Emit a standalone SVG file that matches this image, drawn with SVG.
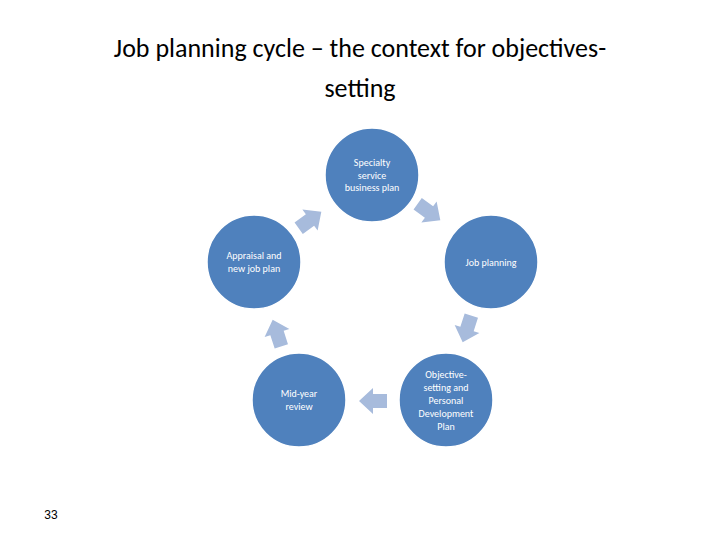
<svg xmlns="http://www.w3.org/2000/svg" width="720" height="540" viewBox="0 0 720 540">
<style>
.n{fill:#4F81BD;stroke:#ffffff;stroke-width:1.5}
.t{font-family:Calibri,"Liberation Sans",sans-serif;font-size:10px;fill:#ffffff;text-anchor:middle}
.a{fill:#A7BBDC}
.h{font-family:Calibri,"Open Sans","Liberation Sans",sans-serif;font-size:26px;fill:#000;text-anchor:middle}
</style>
<defs><polygon id="arr" points="-14,-7 0,-7 0,-13 14,0 0,13 0,7 -14,7"/></defs>
<rect width="720" height="540" fill="#fff"/>
<text class="h" x="360" y="57">Job planning cycle – the context for objectives-</text>
<text class="h" x="360" y="97">setting</text>
<g id="connectors">
<use href="#arr" class="a" transform="translate(429,212) rotate(36)"/>
<use href="#arr" class="a" transform="translate(467,329) rotate(108)"/>
<use href="#arr" class="a" transform="translate(373,401) rotate(180)"/>
<use href="#arr" class="a" transform="translate(277,333) rotate(252)"/>
<use href="#arr" class="a" transform="translate(310,220) rotate(324)"/>
</g>
<g id="n1"><circle class="n" cx="372" cy="175" r="47"/><text class="t" x="372" y="166">Specialty</text><text class="t" x="372" y="179">service</text><text class="t" x="372" y="191">business plan</text></g>
<g id="n2"><circle class="n" cx="491" cy="262" r="47"/><text class="t" x="491" y="266">Job planning</text></g>
<g id="n3"><circle class="n" cx="446" cy="400" r="47"/><text class="t" x="446" y="378">Objective-</text><text class="t" x="446" y="391">setting and</text><text class="t" x="446" y="404">Personal</text><text class="t" x="446" y="417">Development</text><text class="t" x="446" y="430">Plan</text></g>
<g id="n4"><circle class="n" cx="299" cy="400" r="47"/><text class="t" x="299" y="397">Mid-year</text><text class="t" x="299" y="410">review</text></g>
<g id="n5"><circle class="n" cx="254" cy="262" r="47"/><text class="t" x="254" y="259">Appraisal and</text><text class="t" x="254" y="272">new job plan</text></g>
<text x="51" y="519" font-family="Liberation Sans,sans-serif" font-size="12" text-anchor="middle" fill="#000">33</text>
</svg>
